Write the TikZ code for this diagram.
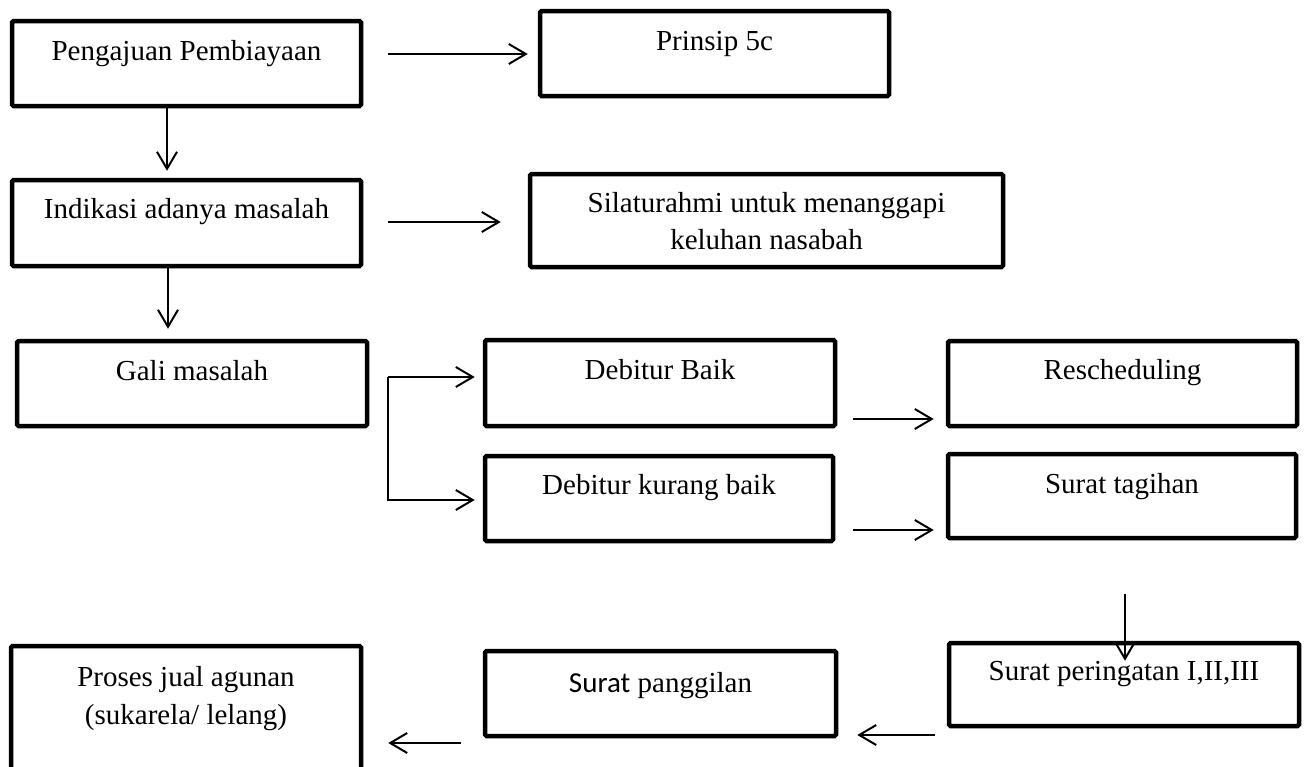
\documentclass[tikz,border=0pt]{standalone}
\usepackage{fontspec}
\setmainfont{Liberation Serif}
\newfontfamily\calib{Carlito}
\usetikzlibrary{arrows.meta,calc}
\begin{document}
\begin{tikzpicture}[x=1pt,y=1pt,
  box/.style={draw, line width=4.5pt, rounded corners=1.5pt, inner sep=0pt},
  txt/.style={font=\fontsize{29}{36}\selectfont, anchor=base, inner sep=0pt},
  arr/.style={line width=2pt, -{Straight Barb[length=17pt,width=20pt,line width=2pt]}}]
\useasboundingbox (0,0) rectangle (1307,-766);
\fill[white] (0,0) rectangle (1307,-766);
\begin{scope}
\clip (0,0) rectangle (1307,-766);
% boxes
\node[box, minimum width=349pt, minimum height=85pt] (p1) at (186.5,-63.5) {};
\node[box, minimum width=349pt, minimum height=85pt] (p5) at (714.5,-53.5) {};
\node[box, minimum width=349pt, minimum height=86pt] (ind) at (186.5,-223) {};
\node[box, minimum width=473pt, minimum height=93pt] (sil) at (766.5,-220.5) {};
\node[box, minimum width=350pt, minimum height=85pt] (gali) at (192,-383.5) {};
\node[box, minimum width=350pt, minimum height=86pt] (db) at (660,-383) {};
\node[box, minimum width=349pt, minimum height=85pt] (res) at (1122.5,-383.5) {};
\node[box, minimum width=348pt, minimum height=85pt] (dkb) at (659,-498.5) {};
\node[box, minimum width=348pt, minimum height=84pt] (st) at (1122,-496) {};
\node[box, minimum width=350pt, minimum height=83pt] (sp) at (1124,-684.5) {};
\node[box, minimum width=351pt, minimum height=85pt] (spg) at (660.5,-693.5) {};
\node[box, minimum width=350pt, minimum height=124pt] (pja) at (186,-708) {};
\end{scope}
% texts
\node[txt] (p1t) at (186.5,-60) {Pengajuan Pembiayaan};
\node[txt] (p5t) at (714.5,-50) {Prinsip 5c};
\node[txt] (indt) at (186.5,-218) {Indikasi adanya masalah};
\node[txt] (silt1) at (766.5,-212) {Silaturahmi untuk menanggapi};
\node[txt] (silt2) at (766.5,-249) {keluhan nasabah};
\node[txt] (galit) at (192,-380) {Gali masalah};
\node[txt] (dbt) at (660,-379) {Debitur Baik};
\node[txt] (rest) at (1122.5,-379) {Rescheduling};
\node[txt] (dkbt) at (659,-494) {Debitur kurang baik};
\node[txt] (stt) at (1122,-493) {Surat tagihan};
\node[txt] (spt) at (1124,-680) {Surat peringatan I,II,III};
\node[txt] (spgt) at (660.5,-692) {{\calib Surat} panggilan};
\node[txt] (pjat1) at (186,-686) {Proses jual agunan};
\node[txt] (pjat2) at (186,-724) {(sukarela/ lelang)};
% connectors
\draw[arr] ($(p1.east)+(25,9.5)$) -- ($(p5.west)+(-10,-0.5)$);
\draw[arr] ($(p1.south)+(-19.5,0)$) -- ($(ind.north)+(-19.5,7)$);
\draw[arr] ($(ind.east)+(25,1)$) -- ($(sil.west)+(-27,-1.5)$);
\draw[arr] ($(ind.south)+(-18.5,0)$) -- ($(gali.north)+(-24,10)$);
\draw[arr] ($(gali.east)+(19,6.5)$) -- ($(db.west)+(-8,6)$);
\draw[arr] ($(gali.east)+(19,6.5)$) |- ($(dkb.west)+(-8,-1.5)$);
\draw[arr] ($(db.east)+(16,-36)$) -- ($(res.west)+(-12,-35.5)$);
\draw[arr] ($(dkb.east)+(18,-31.5)$) -- ($(st.west)+(-12,-34)$);
\draw[arr] ($(st.south)+(3,-54)$) -- ($(sp.north)+(1,-20)$);
\draw[arr] ($(sp.west)+(-12,-50.5)$) -- ($(spg.east)+(19,-41.5)$);
\draw[arr] ($(spg.west)+(-22,-49.5)$) -- ($(pja.east)+(25,-35)$);
\end{tikzpicture}
\end{document}
